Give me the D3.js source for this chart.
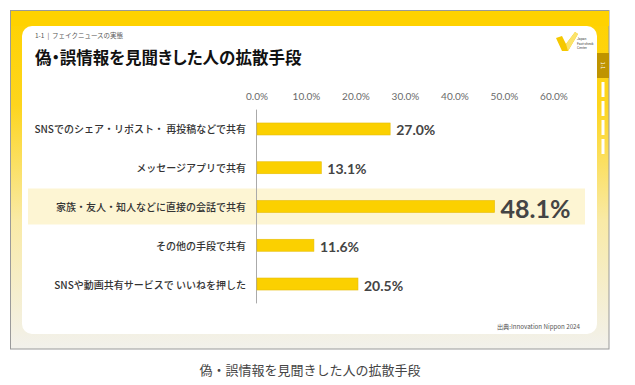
<!DOCTYPE html>
<html><head><meta charset="utf-8">
<script src="https://cdn.jsdelivr.net/npm/d3@7"></script>
<style>
html,body{margin:0;padding:0;background:#fff;}
svg{display:block;font-family:"Noto Sans CJK JP","Noto Sans",sans-serif;}
.palt{font-feature-settings:"palt" 1;}
</style></head>
<body><svg id="c" width="635" height="385"></svg>
<script>
const categories = [
  "SNSでのシェア・リポスト・ 再投稿などで共有",
  "メッセージアプリで共有",
  "家族・友人・知人などに直接の会話で共有",
  "その他の手段で共有",
  "SNSや動画共有サービスで いいねを押した"
];
const values = [27.0, 13.1, 48.1, 11.6, 20.5];
const highlightIndex = 2;
const tickValues = [0, 10, 20, 30, 40, 50, 60];
const title = "偽・誤情報を見聞きした人の拡散手段";
const subtitle = "1-1\u00a0\u00a0|\u00a0\u00a0フェイクニュースの実態";
const source = "出典:Innovation Nippon 2024";
const caption = "偽・誤情報を見聞きした人の拡散手段";

const svg = d3.select("#c");
const defs = svg.append("defs");
const g1 = defs.append("linearGradient").attr("id","frameGrad").attr("x1",0).attr("y1",0).attr("x2",0).attr("y2",1);
g1.append("stop").attr("offset","0%").attr("stop-color","#ffd200");
g1.append("stop").attr("offset","28%").attr("stop-color","#fdd51e");
g1.append("stop").attr("offset","62%").attr("stop-color","#f9eaa6");
g1.append("stop").attr("offset","100%").attr("stop-color","#f2f1ec");

// frame
svg.append("rect").attr("x",10.5).attr("y",10.5).attr("width",598.5).attr("height",338.5)
  .attr("fill","url(#frameGrad)").attr("stroke","#9a9a9a").attr("stroke-width",1);
svg.append("rect").attr("x",11).attr("y",11).attr("width",598).attr("height",15).attr("fill","#ffd200");
// card
svg.append("rect").attr("x",22).attr("y",26).attr("width",575).attr("height",308).attr("rx",10).attr("fill","#ffffff");

// right tab
svg.append("rect").attr("x",597).attr("y",53).attr("width",12).attr("height",25).attr("fill","#bf9400");
svg.append("text").attr("transform","translate(603,65.5) rotate(90)").attr("text-anchor","middle")
  .attr("dominant-baseline","central").attr("font-size",5).attr("fill","#fff").text("1-1");
[82,101,120,139].forEach(y=>{
  svg.append("rect").attr("x",601.5).attr("y",y).attr("width",3).attr("height",15).attr("fill","#ffffff");
});

// logo
svg.append("path").attr("d","M556,38 L562,36 L566,44 L575,32 L578,34 L568,51 L562,51 Z").attr("fill","#f5c800");
svg.append("path").attr("d","M566,44 L575,32 L578,34 L568,51 Z").attr("fill","#fbe36a");
const lg = svg.append("g").attr("font-size",3.4).attr("fill","#444").attr("font-family","Roboto, sans-serif");
lg.append("text").attr("x",577).attr("y",40).text("Japan");
lg.append("text").attr("x",577).attr("y",44.5).text("Fact-check");
lg.append("text").attr("x",577).attr("y",49).text("Center");

// header texts
svg.append("text").attr("x",35).attr("y",38).attr("font-size",6.5).attr("fill","#555").text(subtitle);
svg.append("text").attr("class","palt").attr("x",35).attr("y",64).attr("font-size",16.5).attr("font-weight",700).attr("fill","#111").text(title);

// scales
const x = d3.scaleLinear().domain([0,60]).range([256.5,553.5]);
const y = d3.scaleBand().domain(categories).range([109.6,303.4]);
const barH = 12;

// highlight band
svg.append("rect").attr("x",28).attr("width",557)
  .attr("y", y(categories[highlightIndex]) + y.bandwidth()/2 - 18).attr("height",36)
  .attr("fill","#fdf5d3");

// top axis tick labels
const xAxis = d3.axisTop(x).tickValues(tickValues).tickFormat(d=>d.toFixed(1)+"%").tickSize(0).tickPadding(0);
const ax = svg.append("g").attr("transform","translate(0,100)").call(xAxis);
ax.select(".domain").remove();
ax.selectAll("text").attr("font-size",10).attr("fill","#6a6a6a").attr("font-family","Lato, 'Noto Sans', sans-serif").attr("dy",0);

// y axis line
svg.append("line").attr("x1",x(0)).attr("x2",x(0)).attr("y1",y.range()[0]).attr("y2",y.range()[1])
  .attr("stroke","#aaaaaa").attr("stroke-width",1);

// bars
svg.append("g").selectAll("rect").data(values).join("rect")
  .attr("x",x(0)+0.5)
  .attr("y",(d,i)=>y(categories[i])+y.bandwidth()/2-barH/2)
  .attr("width",d=>x(d)-x(0)-0.5)
  .attr("height",barH)
  .attr("fill","#fbd000").attr("stroke","#e6bd0a").attr("stroke-width",0.6);

// category labels
svg.append("g").selectAll("text").data(categories).join("text")
  .attr("x",246).attr("y",d=>y(d)+y.bandwidth()/2).attr("dominant-baseline","central")
  .attr("text-anchor","end").attr("font-size",10).attr("font-weight",500).attr("fill","#333")
  .text(d=>d);

// value labels
svg.append("g").selectAll("text").data(values).join("text")
  .attr("x",d=>x(d)+6).attr("y",(d,i)=>y(categories[i])+y.bandwidth()/2+1)
  .attr("dominant-baseline","central")
  .attr("font-family","Lato, 'Noto Sans', sans-serif").attr("font-weight",700)
  .attr("font-size",(d,i)=>i===highlightIndex?25:14).attr("fill","#444")
  .text(d=>d.toFixed(1)+"%");

// source
svg.append("text").attr("x",580).attr("y",329).attr("text-anchor","end").attr("font-size",6.2).attr("fill","#555").text(source);

// caption
svg.append("text").attr("x",310).attr("y",369).attr("text-anchor","middle").attr("dominant-baseline","central")
  .attr("font-size",13).attr("fill","#444").text(caption);
</script></body></html>
